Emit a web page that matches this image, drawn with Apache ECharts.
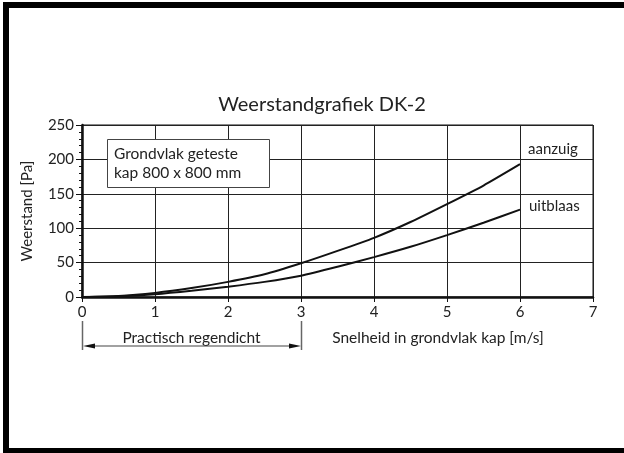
<!DOCTYPE html>
<html lang="nl">
<head>
<meta charset="UTF-8">
<title>Weerstandgrafiek DK-2</title>
<script src="https://cdn.jsdelivr.net/npm/echarts@6/dist/echarts.min.js"></script>
</head>
<body style="margin:0;background:#fff">
<div id="chart" style="width:624px;height:453px"></div>
<script>
var snelheid = [0, 0.5, 1, 1.5, 2, 2.5, 3, 3.5, 4, 4.5, 5, 5.5, 6];
var aanzuig  = [0, 1.5, 6, 13, 22, 33, 49, 67, 86, 109, 135, 162, 193];
var uitblaas = [0, 1, 4, 9, 15, 22, 31, 44, 58, 73, 90, 108, 127];
var seriesNames = ['aanzuig', 'uitblaas'];
var labelOffsets = [[0, -15], [1, -3]];

var font = 'Lato';
var chart = echarts.init(document.getElementById('chart'));

function pairs(ys) {
    var out = [];
    for (var i = 0; i < snelheid.length; i++) {
        out.push([snelheid[i], ys[i]]);
    }
    return out;
}

function lijn(name, ys, off) {
    return {
        name: name,
        type: 'line',
        data: pairs(ys),
        showSymbol: false,
        smooth: 0.2,
        silent: true,
        lineStyle: { color: '#111', width: 2 },
        endLabel: {
            show: true,
            formatter: name,
            offset: off,
            color: '#222',
            fontFamily: font,
            fontSize: 15
        },
        z: 3
    };
}

var option = {
    backgroundColor: '#fff',
    animation: false,
    grid: {
        left: 82, right: 31, top: 125, bottom: 156,
        show: true, borderColor: '#111', borderWidth: 1
    },
    xAxis: {
        type: 'value',
        min: 0, max: 7, interval: 1,
        axisLine: { show: true, lineStyle: { color: '#111', width: 2.5 } },
        axisTick: { show: true, length: 5, lineStyle: { color: '#111' } },
        axisLabel: { color: '#222', fontFamily: font, fontSize: 15, margin: 8 },
        splitLine: { show: true, lineStyle: { color: '#222', width: 1 } }
    },
    yAxis: {
        type: 'value',
        min: 0, max: 250, interval: 50,
        name: 'Weerstand [Pa]',
        nameLocation: 'middle',
        nameGap: 47,
        nameTextStyle: { color: '#222', fontFamily: font, fontSize: 15 },
        axisLine: { show: true, lineStyle: { color: '#111', width: 2.5 } },
        axisTick: { show: true, length: 6, lineStyle: { color: '#111' } },
        minorTick: { show: true, splitNumber: 5, length: 3, lineStyle: { color: '#111' } },
        axisLabel: { color: '#222', fontFamily: font, fontSize: 15, margin: 8 },
        splitLine: { show: true, lineStyle: { color: '#222', width: 1 } }
    },
    series: [
        lijn(seriesNames[0], aanzuig, labelOffsets[0]),
        lijn(seriesNames[1], uitblaas, labelOffsets[1])
    ]
};
chart.setOption(option);

// annotaties: kader, titel, pijl "practisch regendicht"
var x0 = chart.convertToPixel({ xAxisIndex: 0 }, 0);
var x3 = chart.convertToPixel({ xAxisIndex: 0 }, 3);
var yPijl = 346;

chart.setOption({
    graphic: [
        // zwarte rand
        { type: 'rect', shape: { x: 3, y: 2, width: 6, height: 451 }, style: { fill: '#000' } },
        { type: 'rect', shape: { x: 3, y: 2, width: 621, height: 6 }, style: { fill: '#000' } },
        { type: 'rect', shape: { x: 3, y: 448, width: 621, height: 5 }, style: { fill: '#000' } },
        {
            type: 'text', x: 322, y: 105,
            style: { text: 'Weerstandgrafiek DK-2', fontFamily: font, fontSize: 20, fill: '#222',
                     textAlign: 'center', textVerticalAlign: 'middle' }
        },
        {
            type: 'rect', z: 10,
            shape: { x: 107.5, y: 139.5, width: 162, height: 48 },
            style: { fill: '#fff', stroke: '#444', lineWidth: 1 }
        },
        {
            type: 'text', z: 11, x: 114, y: 163,
            style: { text: 'Grondvlak geteste\nkap 800 x 800 mm', fontFamily: font, fontSize: 15.5,
                     lineHeight: 19, fill: '#222', textVerticalAlign: 'middle' }
        },
        {
            type: 'text', x: (x0 + x3) / 2, y: 338,
            style: { text: 'Practisch regendicht', fontFamily: font, fontSize: 15.5, fill: '#222',
                     textAlign: 'center', textVerticalAlign: 'middle' }
        },
        {
            type: 'text', x: 438, y: 338,
            style: { text: 'Snelheid in grondvlak kap [m/s]', fontFamily: font, fontSize: 15.5, fill: '#222',
                     textAlign: 'center', textVerticalAlign: 'middle' }
        },
        { type: 'line', shape: { x1: x0 + 0.5, y1: 321, x2: x0 + 0.5, y2: 350 }, style: { stroke: '#666', lineWidth: 1.5 } },
        { type: 'line', shape: { x1: x3 + 0.5, y1: 321, x2: x3 + 0.5, y2: 350 }, style: { stroke: '#666', lineWidth: 1.5 } },
        { type: 'line', shape: { x1: x0 + 8, y1: yPijl, x2: x3 - 8, y2: yPijl }, style: { stroke: '#444', lineWidth: 1.2 } },
        { type: 'polygon', shape: { points: [[x0 + 1, yPijl], [x0 + 13, yPijl - 2.5], [x0 + 13, yPijl + 2.5]] }, style: { fill: '#111' } },
        { type: 'polygon', shape: { points: [[x3, yPijl], [x3 - 12, yPijl - 2.5], [x3 - 12, yPijl + 2.5]] }, style: { fill: '#111' } }
    ]
});
</script>
</body>
</html>
